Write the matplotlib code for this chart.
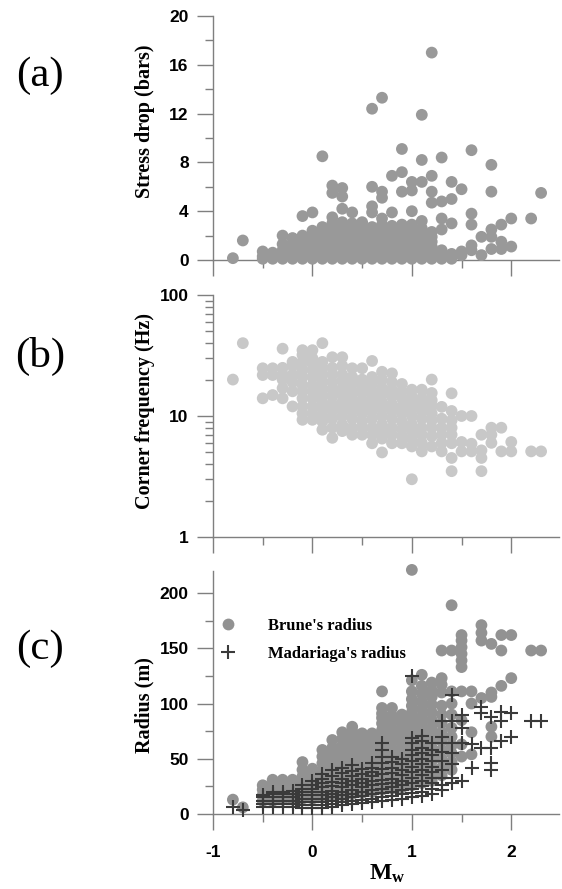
import matplotlib
matplotlib.use("Agg")
import matplotlib.pyplot as plt
from matplotlib.ticker import MultipleLocator, LogLocator, NullFormatter, FixedLocator
from matplotlib.lines import Line2D

plt.rcParams['mathtext.fontset'] = 'custom'
plt.rcParams['mathtext.bf'] = 'Liberation Serif:bold'
plt.rcParams['mathtext.rm'] = 'Liberation Serif'

# ---------------- data ----------------
# Panel (a): stress drop (bars) grouped by Mw column
mw_cols_a = [-0.8, -0.7, -0.5, -0.4, -0.3, -0.2, -0.1, 0.0, 0.1, 0.2, 0.3, 0.4, 0.5,
             0.6, 0.7, 0.8, 0.9, 1.0, 1.1, 1.2, 1.3, 1.4, 1.5, 1.6, 1.7, 1.8, 1.9, 2.0, 2.2, 2.3]
stress_drop = [
    [0.15],
    [1.6],
    [0.1, 0.3, 0.7],
    [0.1, 0.3, 0.6],
    [0.1, 0.4, 0.8, 1.3, 2.0],
    [0.1, 0.3, 0.7, 1.0, 1.4, 1.8],
    [0.1, 0.4, 0.8, 1.2, 1.6, 2.0, 3.6],
    [0.1, 0.3, 0.6, 0.9, 1.3, 1.7, 2.1, 2.4, 3.9],
    [0.1, 0.4, 0.7, 1.0, 1.4, 1.8, 2.2, 2.7, 8.5],
    [0.1, 0.3, 0.6, 1.0, 1.3, 1.7, 2.1, 2.5, 3.0, 3.5, 5.5, 6.1],
    [0.1, 0.4, 0.8, 1.1, 1.5, 1.9, 2.3, 2.7, 3.1, 4.2, 5.2, 5.9],
    [0.1, 0.3, 0.7, 1.0, 1.4, 1.8, 2.2, 2.6, 3.0, 3.9],
    [0.1, 0.4, 0.8, 1.2, 1.6, 2.0, 2.4, 2.8, 3.1],
    [0.1, 0.3, 0.7, 1.1, 1.5, 1.9, 2.3, 2.7, 3.9, 4.4, 6.0, 12.4],
    [0.1, 0.4, 0.8, 1.2, 1.6, 2.0, 2.4, 2.9, 3.4, 5.1, 5.6, 13.3],
    [0.1, 0.3, 0.7, 1.1, 1.5, 1.9, 2.3, 2.8, 3.9, 6.9],
    [0.1, 0.4, 0.8, 1.2, 1.6, 2.0, 2.5, 2.9, 5.6, 7.2, 9.1],
    [0.1, 0.3, 0.7, 1.1, 1.5, 1.9, 2.4, 2.9, 4.0, 5.7, 6.4],
    [0.1, 0.4, 0.8, 1.2, 1.6, 2.0, 2.6, 3.2, 6.4, 8.2, 11.9],
    [0.1, 0.3, 0.7, 1.1, 1.5, 1.9, 2.3, 4.7, 5.6, 6.9, 17.0],
    [0.1, 0.4, 0.8, 2.5, 3.4, 4.8, 8.4],
    [0.1, 0.5, 3.0, 5.0, 6.4],
    [0.4, 0.7, 5.8],
    [0.8, 1.2, 2.9, 3.8, 9.0],
    [0.4, 1.9],
    [0.9, 1.9, 2.5, 5.6, 7.8],
    [0.9, 1.5, 2.9],
    [1.1, 3.4],
    [3.4],
    [5.5],
]

# Panel (b): corner frequency (Hz) grouped by Mw column
mw_cols_b = [-0.8, -0.7, -0.5, -0.4, -0.3, -0.2, -0.1, 0.0, 0.1, 0.2, 0.3, 0.4, 0.5,
             0.6, 0.7, 0.8, 0.9, 1.0, 1.1, 1.2, 1.3, 1.4, 1.5, 1.6, 1.7, 1.8, 1.9, 2.0, 2.2, 2.3]
corner_freq = [
    [20],
    [40],
    [14, 21.8, 24.8],
    [14.9, 21.8, 24.8],
    [14, 17, 20, 22, 25, 36],
    [12, 16, 19, 22, 26, 28],
    [9.3, 10.5, 12, 14, 16, 18, 21, 24, 28, 32, 35],
    [9.3, 10.5, 12, 14, 16, 18, 21, 24, 27, 30, 35],
    [7.7, 9, 10, 11.5, 13, 15, 17, 19.5, 22, 25, 28, 40],
    [6.6, 8, 9.5, 11, 12.5, 14.5, 16.5, 19, 22, 25, 30.6],
    [7.5, 8.5, 10, 11.5, 13, 15, 17, 19.5, 22, 26, 30.6],
    [7.0, 8, 9.5, 11, 12.5, 14, 16, 18.5, 21, 24.8],
    [7.0, 8, 9, 10.5, 12, 13.5, 15.5, 17.5, 20, 24.8],
    [5.95, 7, 8, 9.5, 11, 12.5, 14, 16, 18.5, 21, 28.5],
    [5.0, 6.5, 7.5, 8.5, 10, 11.5, 13, 15, 17, 20, 23.2],
    [5.95, 7, 8, 9.5, 11, 12.5, 14.5, 16.5, 19, 22.5],
    [5.95, 6.8, 7.8, 9, 10.5, 12, 14, 16, 18.4],
    [3.0, 5.6, 6.5, 7.5, 8.5, 10, 11.5, 13, 14.5, 16.5],
    [5.1, 6.0, 7, 8, 9.5, 11, 12.5, 14, 16.5],
    [5.6, 6.8, 8, 9.2, 10.5, 12, 13.5, 15.5, 20],
    [5.1, 6, 7, 8, 9.5, 11.9],
    [3.5, 4.5, 5.95, 7, 8, 9.2, 11.0, 15.4],
    [5.1, 6.1, 10],
    [5.1, 5.9, 10],
    [3.5, 4.5, 5.2, 7.0],
    [6.0, 7.0, 8.0],
    [5.1, 8.0],
    [5.1, 6.1],
    [5.1],
    [5.1],
]

# Panel (c): source radius (m) grouped by Mw column
mw_cols_c = [-0.8, -0.7, -0.5, -0.4, -0.3, -0.2, -0.1, 0.0, 0.1, 0.2, 0.3, 0.4, 0.5,
             0.6, 0.7, 0.8, 0.9, 1.0, 1.1, 1.2, 1.3, 1.4, 1.5, 1.6, 1.7, 1.8, 1.9, 2.0, 2.2, 2.3]
brune_radius = [
    [13],
    [6],
    [12, 17, 22, 26],
    [12, 17, 22, 27, 31],
    [13, 18, 23, 27, 31],
    [13, 18, 23, 27, 31],
    [14, 19, 24, 29, 34, 40, 47],
    [14, 19, 24, 29, 34, 38, 41],
    [15, 20, 25, 30, 35, 40, 46, 52, 58],
    [16, 21, 26, 31, 36, 42, 48, 54, 60, 67],
    [17, 22, 27, 32, 38, 44, 50, 56, 62, 68, 74],
    [18, 23, 28, 34, 40, 46, 52, 58, 64, 70, 75, 79],
    [19, 24, 30, 36, 42, 48, 54, 60, 66, 70, 73],
    [20, 26, 32, 38, 44, 50, 56, 62, 68, 73],
    [22, 28, 34, 40, 46, 52, 58, 64, 70, 76, 82, 87, 91, 96, 111],
    [23, 29, 35, 41, 47, 53, 59, 65, 71, 77, 83, 89, 96],
    [24, 30, 36, 42, 48, 54, 60, 66, 72, 78, 84, 90],
    [26, 32, 38, 44, 50, 56, 62, 68, 74, 80, 86, 92, 98, 104, 111, 121, 221],
    [28, 34, 40, 46, 52, 58, 64, 70, 76, 82, 88, 95, 102, 109, 116, 126],
    [30, 36, 42, 48, 54, 60, 66, 72, 78, 85, 92, 99, 106, 112, 119],
    [35, 42, 50, 58, 66, 74, 82, 90, 98, 110, 117, 123, 148],
    [40, 47, 55, 62, 70, 78, 90, 100, 111, 148, 189],
    [52, 63, 85, 111, 133, 139, 145, 151, 157, 162],
    [54, 74, 100, 111],
    [105, 157, 164, 171],
    [70, 79, 106, 110, 154],
    [116, 148, 162],
    [123, 162],
    [148],
    [148],
]
madariaga_radius = [
    [6.6],
    [4.0],
    [6, 9, 12, 15, 17],
    [6, 9, 12, 15, 18, 20],
    [6, 9, 12, 15, 18, 20],
    [6, 9, 12, 15, 18, 21],
    [5, 8, 11, 14, 17, 20, 23, 26],
    [5, 8, 11, 14, 17, 20, 23, 26, 30],
    [5, 8, 11, 14, 17, 20, 24, 28, 32, 36],
    [6, 9, 12, 15, 18, 21, 25, 29, 34, 40],
    [8, 11, 14, 17, 20, 24, 28, 32, 37, 42],
    [9, 12, 15, 18, 22, 26, 30, 34, 39, 44],
    [10, 13, 16, 20, 24, 28, 32, 36, 41],
    [11, 14, 18, 22, 26, 30, 34, 38, 42, 46],
    [12, 15, 19, 23, 27, 31, 36, 41, 46, 52, 58, 64],
    [13, 16, 20, 24, 28, 32, 37, 42, 47, 52],
    [14, 18, 22, 26, 30, 35, 40, 45, 50],
    [15, 19, 23, 28, 33, 38, 43, 48, 53, 58, 64, 69, 125],
    [16, 20, 25, 30, 35, 40, 45, 50, 55, 60, 66, 71],
    [18, 23, 28, 33, 38, 43, 48, 53, 58, 64],
    [22, 26, 33, 40, 48, 56, 64, 70, 84],
    [28, 33, 45, 55, 64, 84, 108],
    [30, 64, 78, 84, 90],
    [42, 63],
    [60, 91, 97],
    [40, 46, 60, 88],
    [66, 84, 92],
    [70, 91],
    [84],
    [84],
]

x_ticks = [-1, 0, 1, 2]
x_tick_labels = ['-1', '0', '1', '2']
a_ticks = [0, 4, 8, 12, 16, 20]
b_ticks = [1, 10, 100]
c_ticks = [0, 50, 100, 150, 200]


def flatten(cols, groups):
    xs, ys = [], []
    for x, g in zip(cols, groups):
        for v in g:
            xs.append(x)
            ys.append(v)
    return xs, ys


# ---------------- figure ----------------
W, H = 562, 889
fig = plt.figure(figsize=(W / 100, H / 100), dpi=100)

left = 213 / W
width = 346 / W
ax_a = fig.add_axes([left, (H - 260) / H, width, 244 / H])
ax_b = fig.add_axes([left, (H - 537) / H, width, 242 / H])
ax_c = fig.add_axes([left, (H - 814) / H, width, 243 / H])

spine_col = '#7f7f7f'
tick_font = dict(family='Liberation Sans', weight='bold', size=12.5)
label_font = dict(family='Liberation Serif', weight='bold', size=14.5)

for ax in (ax_a, ax_b, ax_c):
    ax.set_xlim(-1, 2.48)
    for s in ('top', 'right'):
        ax.spines[s].set_visible(False)
    for s in ('left', 'bottom'):
        ax.spines[s].set_color(spine_col)
        ax.spines[s].set_linewidth(1.0)
    ax.xaxis.set_major_locator(FixedLocator(x_ticks))
    ax.xaxis.set_minor_locator(MultipleLocator(0.5))
    ax.tick_params(which='major', direction='out', length=11.5, width=1.0, color=spine_col)
    ax.tick_params(which='minor', direction='out', length=6, width=1.0, color=spine_col)
    ax.tick_params(axis='y', which='major', pad=6)
    ax.tick_params(axis='x', which='major', pad=11)
    ax.set_facecolor('none')

dot_s = 72
lab_x = -0.168

# (a)
xa, ya = flatten(mw_cols_a, stress_drop)
ax_a.scatter(xa, ya, s=dot_s, color='#999999', edgecolors='none', clip_on=False, zorder=3)
ax_a.set_ylim(0, 20)
ax_a.set_yticks(a_ticks)
ax_a.yaxis.set_minor_locator(MultipleLocator(2))
ax_a.set_yticklabels([str(t) for t in a_ticks], fontdict=tick_font)
ax_a.set_xticklabels([])
ax_a.set_ylabel('Stress drop (bars)', fontdict=label_font)
ax_a.yaxis.set_label_coords(lab_x, 0.57)

# (b)
xb, yb = flatten(mw_cols_b, corner_freq)
ax_b.scatter(xb, yb, s=dot_s, color='#c8c8c8', edgecolors='none', clip_on=False, zorder=3)
ax_b.set_yscale('log')
ax_b.set_ylim(1, 100)
ax_b.yaxis.set_major_locator(FixedLocator(b_ticks))
ax_b.yaxis.set_minor_locator(LogLocator(base=10, subs=range(2, 10)))
ax_b.yaxis.set_minor_formatter(NullFormatter())
ax_b.set_yticklabels([str(t) for t in b_ticks], fontdict=tick_font)
ax_b.set_xticklabels([])
ax_b.set_ylabel('Corner frequency (Hz)', fontdict=label_font)
ax_b.yaxis.set_label_coords(lab_x, 0.52)

# (c)
xc, yc = flatten(mw_cols_c, brune_radius)
xm, ym = flatten(mw_cols_c, madariaga_radius)
ax_c.scatter(xc, yc, s=dot_s, color='#929292', edgecolors='none', clip_on=False, zorder=3)
ax_c.scatter(xm, ym, s=105, marker='+', color='#3a3a3a', linewidths=1.5, clip_on=False, zorder=4)
ax_c.set_ylim(0, 220)
ax_c.set_yticks(c_ticks)
ax_c.yaxis.set_minor_locator(MultipleLocator(25))
ax_c.set_yticklabels([str(t) for t in c_ticks], fontdict=tick_font)
ax_c.set_xticklabels(x_tick_labels, fontdict=tick_font)
ax_c.set_ylabel('Radius (m)', fontdict=label_font)
ax_c.yaxis.set_label_coords(lab_x, 0.45)

fig.text(387 / W, 1 - 873 / H, r'$\mathbf{M_w}$', fontsize=17, ha='center', va='center')

handles = [
    Line2D([], [], linestyle='none', marker='o', markersize=8.5, color='#929292', markeredgewidth=0),
    Line2D([], [], linestyle='none', marker='+', markersize=10, color='#3a3a3a', markeredgewidth=1.5),
]
leg = ax_c.legend(handles, ["Brune's radius", "Madariaga's radius"], loc='upper left',
                  bbox_to_anchor=(-0.025, 0.87), frameon=False, handletextpad=1.9,
                  labelspacing=0.75, handlelength=1.0,
                  prop=dict(family='Liberation Serif', weight='bold', size=12))

# panel letters
for txt, yp in (('(a)', 76), ('(b)', 356), ('(c)', 649)):
    fig.text(40 / W, 1 - yp / H, txt, fontsize=31, family='Liberation Serif',
             ha='center', va='center')

fig.savefig('out.png', dpi=100)
